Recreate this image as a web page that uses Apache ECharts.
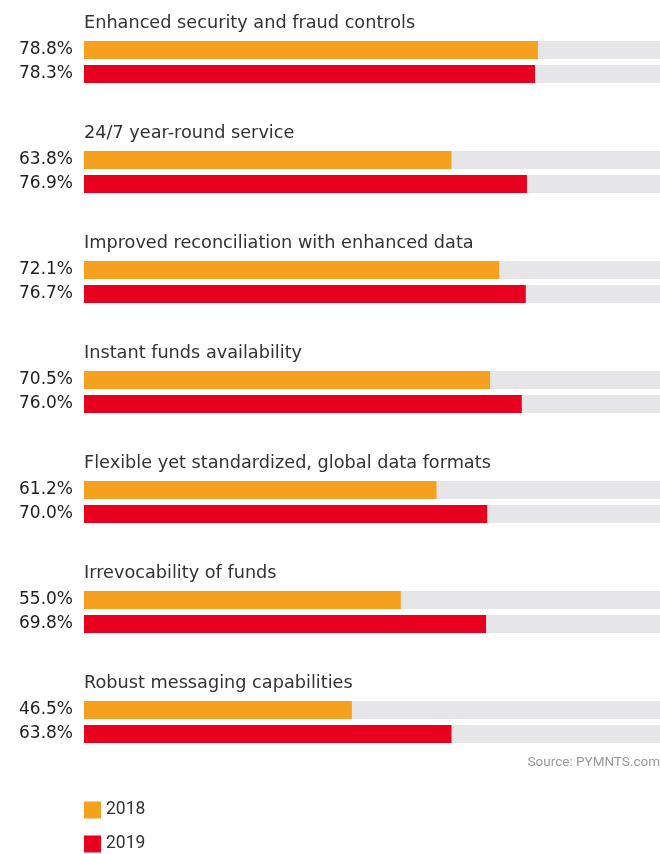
<!DOCTYPE html>
<html>
<head>
<meta charset="utf-8">
<script src="https://cdn.jsdelivr.net/npm/echarts@6/dist/echarts.min.js"></script>
<style>
  html, body { margin: 0; padding: 0; background: #fff; }
  #chart { width: 660px; height: 854px; }
</style>
</head>
<body>
<div id="chart"></div>
<script>
const categories = [
  'Enhanced security and fraud controls',
  '24/7 year-round service',
  'Improved reconciliation with enhanced data',
  'Instant funds availability',
  'Flexible yet standardized, global data formats',
  'Irrevocability of funds',
  'Robust messaging capabilities'
];
const values2018 = [78.8, 63.8, 72.1, 70.5, 61.2, 55.0, 46.5];
const values2019 = [78.3, 76.9, 76.7, 76.0, 70.0, 69.8, 63.8];
const years = ['2018', '2019'];
const colors = { '2018': '#F6A01F', '2019': '#E8001F' };

const pitch = 110;
let grids = [], xAxes = [], yAxes = [], series = [], titles = [];

categories.forEach((name, i) => {
  grids.push({ left: 84, right: 0, top: 38 + pitch * i, height: 48 });
  xAxes.push({ gridIndex: i, type: 'value', min: 0, max: 100, show: false });
  yAxes.push({ gridIndex: i, type: 'category', data: years, inverse: true, show: false });
  titles.push({
    text: name, left: 84, top: 14 + pitch * i, padding: 0,
    textStyle: { fontFamily: 'DejaVu Sans', fontSize: 17.7, fontWeight: 'normal', color: '#333' }
  });
  // grey track behind each bar
  series.push({
    type: 'bar', name: 'track', xAxisIndex: i, yAxisIndex: i,
    data: [100, 100], barWidth: 18, barGap: '-100%', silent: true,
    itemStyle: { color: '#E6E6E8' }
  });
  series.push({
    type: 'bar', name: '2018', xAxisIndex: i, yAxisIndex: i,
    data: [values2018[i], '-'], barWidth: 18, barGap: '-100%',
    itemStyle: { color: colors['2018'] },
    label: { show: true, position: 'left', distance: 11, formatter: p => p.value.toFixed(1) + '%',
             fontFamily: 'DejaVu Sans', fontSize: 17, color: '#222' }
  });
  series.push({
    type: 'bar', name: '2019', xAxisIndex: i, yAxisIndex: i,
    data: ['-', values2019[i]], barWidth: 18, barGap: '-100%',
    itemStyle: { color: colors['2019'] },
    label: { show: true, position: 'left', distance: 11, formatter: p => p.value.toFixed(1) + '%',
             fontFamily: 'DejaVu Sans', fontSize: 17, color: '#222' }
  });
});

titles.push({
  text: 'Source: PYMNTS.com', right: 0, top: 756, padding: 0,
  textStyle: { fontFamily: 'Roboto', fontSize: 13.5, fontWeight: 'normal', color: '#999' }
});

const legendBase = {
  left: 84, icon: 'rect', itemWidth: 17, itemHeight: 17,
  selectedMode: false, padding: 0,
  textStyle: { fontFamily: 'Roboto', fontSize: 17.5, color: '#333', padding: [3, 0, 0, 0] }
};

let myChart = echarts.init(document.getElementById('chart'));
myChart.setOption({
  animation: false,
  title: titles,
  grid: grids,
  xAxis: xAxes,
  yAxis: yAxes,
  legend: [
    Object.assign({ data: ['2018'], top: 801 }, legendBase),
    Object.assign({ data: ['2019'], top: 835 }, legendBase)
  ],
  series: series
});
</script>
</body>
</html>
